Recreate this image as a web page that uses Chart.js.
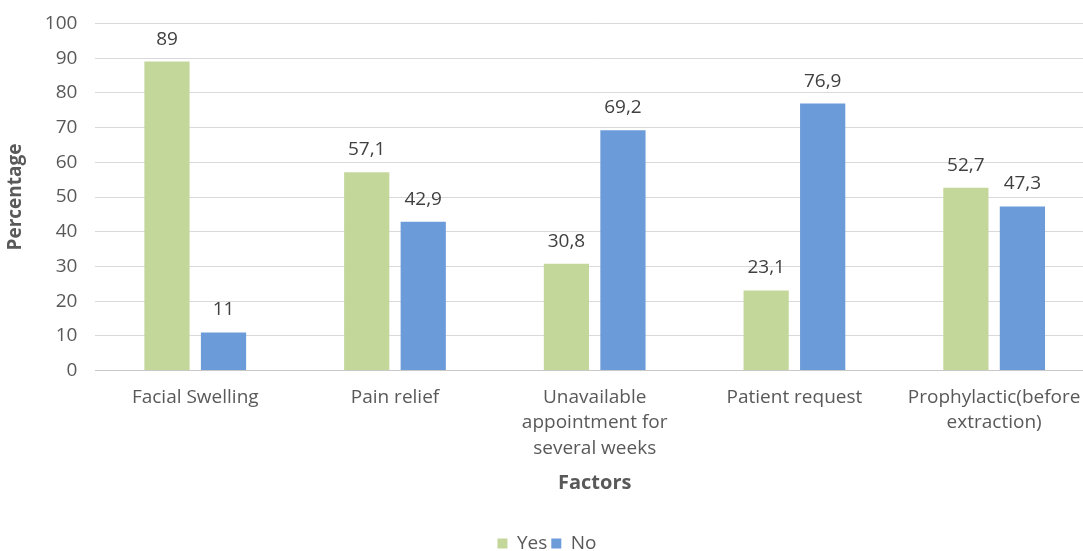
<!DOCTYPE html>
<html>
<head>
<meta charset="utf-8">
<script src="https://cdn.jsdelivr.net/npm/chart.js@4/dist/chart.umd.min.js"></script>
<style>
  html, body { margin: 0; padding: 0; background: #fff; overflow: hidden; }
  #wrap { width: 1094px; height: 569px; margin-top: -6px; }
</style>
</head>
<body>
<div id="wrap"><canvas id="factorChart"></canvas></div>
<script>
// 類別與數據
const categories = [
    'Facial Swelling',
    'Pain relief',
    ['Unavailable', 'appointment for', 'several weeks'],
    'Patient request',
    ['Prophylactic(before', 'extraction)']
];
const yesValues = [89, 57.1, 30.8, 23.1, 52.7];
const noValues = [11, 42.9, 69.2, 76.9, 47.3];
const yTicks = [0, 10, 20, 30, 40, 50, 60, 70, 80, 90, 100];

const textColor = '#595959';
const fontFamily = '"Open Sans", "Noto Sans", sans-serif';

// 在長條上方寫數值（小數用逗號）
const valueLabels = {
    id: 'valueLabels',
    afterDatasetsDraw(chart) {
        const ctx = chart.ctx;
        ctx.save();
        ctx.font = '19px ' + fontFamily;
        ctx.fillStyle = '#404040';
        ctx.textAlign = 'center';
        ctx.textBaseline = 'alphabetic';
        chart.data.datasets.forEach((ds, i) => {
            chart.getDatasetMeta(i).data.forEach((bar, j) => {
                const txt = String(ds.data[j]).replace('.', ',');
                ctx.fillText(txt, bar.x, bar.y - 17);
            });
        });
        ctx.restore();
    }
};

new Chart(document.getElementById('factorChart').getContext('2d'), {
    type: 'bar',
    data: {
        labels: categories,
        datasets: [{
            label: 'Yes',
            data: yesValues,
            backgroundColor: '#c4d79b',
            categoryPercentage: 0.566,
            barPercentage: 0.8,
        }, {
            label: 'No',
            data: noValues,
            backgroundColor: '#6c9bd9',
            categoryPercentage: 0.566,
            barPercentage: 0.8,
        }],
    },
    options: {
        responsive: true,
        maintainAspectRatio: false,
        animation: false,
        layout: { padding: { top: 3, left: 0, right: 0, bottom: 0 } },
        plugins: {
            legend: {
                display: true,
                position: 'bottom',
                labels: {
                    boxWidth: 10,
                    boxHeight: 10,
                    padding: 4,
                    color: textColor,
                    font: { size: 19, family: fontFamily },
                },
            },
            tooltip: { enabled: false },
        },
        scales: {
            x: {
                grid: { display: false },
                border: { color: '#c8c8c8' },
                ticks: {
                    color: textColor,
                    font: { size: 19, family: fontFamily, lineHeight: 1.34 },
                    maxRotation: 0,
                    autoSkip: false,
                    padding: 6,
                },
                title: {
                    display: true,
                    text: 'Factors',
                    color: textColor,
                    font: { size: 20, weight: 'bold', family: fontFamily },
                    padding: { top: 4, bottom: 35 },
                },
            },
            y: {
                min: 0,
                max: 100,
                afterBuildTicks(axis) {
                    axis.ticks = yTicks.map(v => ({ value: v }));
                },
                grid: { color: '#d9d9d9', drawTicks: false },
                border: { display: false },
                ticks: {
                    color: textColor,
                    font: { size: 19, family: fontFamily },
                    padding: 18,
                },
                title: {
                    display: true,
                    text: 'Percentage',
                    color: textColor,
                    font: { size: 19, weight: 'bold', family: fontFamily },
                    padding: { top: 4, bottom: 0 },
                },
            },
        },
    },
    plugins: [valueLabels],
});
</script>
</body>
</html>
